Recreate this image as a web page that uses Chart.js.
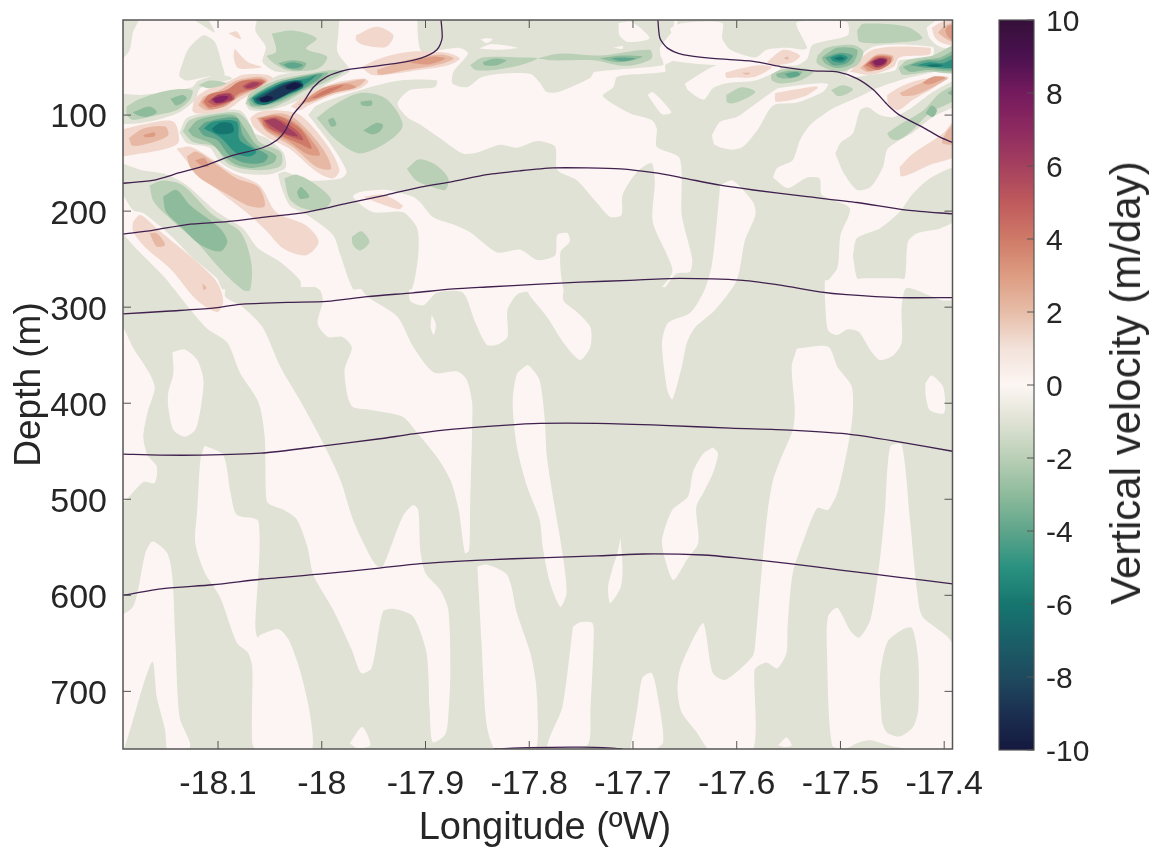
<!DOCTYPE html>
<html>
<head>
<meta charset="utf-8">
<title>Vertical velocity section</title>
<script src="https://cdn.jsdelivr.net/npm/chart.js@4"></script>
<style>
    html, body { margin: 0; padding: 0; background: #fff; }
    #page { position: relative; width: 1153px; height: 848px; overflow: hidden; }
    #sectionChart { position: absolute; left: 0; top: 0; }
    #colorbarChart { position: absolute; left: 960px; top: 0; }
    #colorbarTitle {
        position: absolute; left: 1126px; top: 383px; white-space: nowrap;
        font: 42px "Liberation Sans", sans-serif; color: #262626;
        transform: translate(-50%, -50%) rotate(-90deg);
    }
    #lonTitle {
        position: absolute; left: 545px; top: 826px; white-space: nowrap;
        font: 38px "Liberation Sans", sans-serif; color: #262626;
        transform: translate(-50%, -50%);
    }
</style>
</head>
<body>
<div id="page">
    <canvas id="sectionChart" width="1153" height="848"></canvas>
    <canvas id="colorbarChart" width="193" height="848"></canvas>
    <div id="colorbarTitle">Vertical velocity (m/day)</div>
    <div id="lonTitle">Longitude (ºW)</div>
</div>
<script>
// Axis ticks
const lonTicks = [-18.1, -18, -17.9, -17.8, -17.7, -17.6, -17.5, -17.4];
const depthTicks = [100, 200, 300, 400, 500, 600, 700];
const colorbarTicks = [-10, -8, -6, -4, -2, 0, 2, 4, 6, 8, 10];

// Colour scale of the velocity
const colorbarValues = [-10, -9, -8, -7, -6, -5, -4, -3, -2, -1, 0, 1, 2, 3, 4, 5, 6, 7, 8, 9, 10];
const colorbarColors = ['#14183f', '#1b2f51', '#1e4a5e', '#1a5f68', '#16766f', '#2a9180', '#5ea58b', '#8ebb9c', '#b9cfb6', '#dfe2d4',
    '#fdf6f3', '#f2e2da', '#e7bda8', '#dd9c82', '#cf7a68', '#bf5a5c', '#a5405f', '#8e2a60', '#741a5d', '#4b1150', '#341039'];

// Density surfaces, [lon, depth]
const isoline1 = [[-18.192,171],[-18.163,168],[-18.137,160],[-18.111,152],[-18.086,142],[-18.057,134],[-18.043,126],[-18.035,116],[-18.028,100],[-18.018,87],[-18.008,71],[-17.995,60],[-17.976,53],[-17.956,50],[-17.927,46],[-17.905,41],[-17.889,32],[-17.884,20],[-17.885,1]];
const isoline1b = [[-17.676,1],[-17.674,20],[-17.667,30],[-17.652,37],[-17.623,41],[-17.584,44],[-17.555,50],[-17.526,54],[-17.503,55],[-17.484,62],[-17.468,74],[-17.454,90],[-17.443,100],[-17.420,113],[-17.404,123],[-17.391,129]];
const isoline2 = [[-18.192,224],[-18.163,220],[-18.130,214],[-18.091,211],[-18.053,206],[-18.014,201],[-17.976,192],[-17.937,183],[-17.905,175],[-17.873,169],[-17.841,162],[-17.809,158],[-17.777,155],[-17.744,155],[-17.712,156],[-17.680,160],[-17.654,165],[-17.616,173],[-17.584,178],[-17.532,185],[-17.484,191],[-17.436,199],[-17.391,203]];
const isoline3 = [[-18.192,307],[-18.146,304],[-18.105,301],[-18.079,297],[-18.033,295],[-17.995,294],[-17.956,289],[-17.912,285],[-17.873,281],[-17.841,279],[-17.790,276],[-17.751,274],[-17.703,272],[-17.655,270],[-17.594,272],[-17.558,277],[-17.520,284],[-17.494,287],[-17.445,290],[-17.392,290]];
const isoline4 = [[-18.192,453],[-18.156,454],[-18.117,454],[-18.059,452],[-18.002,445],[-17.944,437],[-17.912,432],[-17.873,427],[-17.825,423],[-17.790,421],[-17.735,421],[-17.671,423],[-17.606,426],[-17.549,428],[-17.494,432],[-17.445,440],[-17.392,450]];
const isoline5 = [[-18.192,600],[-18.153,593],[-18.105,589],[-18.057,583],[-18.002,578],[-17.947,572],[-17.905,567],[-17.841,563],[-17.790,561],[-17.735,559],[-17.690,557],[-17.632,558],[-17.600,561],[-17.549,567],[-17.498,574],[-17.445,581],[-17.392,588]];
const isoline6 = [[-17.834,760],[-17.80,758.5],[-17.75,758],[-17.72,759],[-17.71,760]];

// Filled contours, [lon, depth] outlines, painted in this order
const baseArea = [[[-18.3,-20],[-17.3,-20],[-17.3,780],[-18.3,780],[-18.3,-20]]];

// 0 to 1 m/day
const pinkAreas = [
    [[-18.2,-5],[-17.662,-5],[-17.662,43],[-17.669,48],[-17.669,55],[-17.715,60],[-17.719,71],[-17.729,80],[-17.703,98],[-17.682,105],[-17.677,114],[-17.677,133],[-17.655,145],[-17.653,204],[-17.643,249],[-17.645,263],[-17.658,265],[-17.669,279],[-17.672,279],[-18.195,279],[-18.2,279]],
    [[-18.2,321],[-18.192,321],[-18.182,342],[-18.166,369],[-18.161,384],[-18.168,410],[-18.172,435],[-18.168,454],[-18.159,466],[-18.161,483],[-18.172,482],[-18.192,504],[-18.2,504]],
    [[-18.144,347],[-18.132,344],[-18.120,355],[-18.114,376],[-18.117,407],[-18.122,428],[-18.132,435],[-18.143,428],[-18.148,404],[-18.148,389],[-18.143,369]],
    [[-18.113,444],[-18.095,454],[-18.088,493],[-18.082,516],[-18.061,523],[-18.064,633],[-18.062,644],[-18.059,641],[-18.042,635],[-18.032,646],[-18.021,678],[-18.011,726],[-18.011,763],[-18.061,763],[-18.067,754],[-18.067,675],[-18.071,660],[-18.082,649],[-18.098,602],[-18.113,576],[-18.122,545],[-18.120,511],[-18.117,459]],
    [[-18.149,272],[-18.130,298],[-18.111,322],[-18.091,337],[-18.079,368],[-18.061,399],[-18.055,435],[-18.054,490],[-18.052,504],[-18.037,511],[-18.024,521],[-18.014,549],[-18.008,579],[-17.989,615],[-17.971,657],[-17.962,681],[-17.952,676],[-17.941,617],[-17.931,614],[-17.912,622],[-17.899,660],[-17.896,719],[-17.893,753],[-17.881,745],[-17.878,726],[-17.876,678],[-17.878,615],[-17.886,594],[-17.900,577],[-17.905,553],[-17.907,511],[-17.912,506],[-17.922,518],[-17.941,570],[-17.946,570],[-17.953,560],[-17.970,521],[-17.982,480],[-17.999,441],[-18.021,397],[-18.040,362],[-18.057,321],[-18.076,300],[-18.093,289],[-18.093,272]],
    [[-17.973,754],[-17.961,737],[-17.953,756],[-17.966,759]],
    [[-18.2,620],[-18.192,620],[-18.182,612],[-18.177,594],[-18.170,556],[-18.163,544],[-18.149,556],[-18.144,581],[-18.141,649],[-18.137,727],[-18.127,754],[-18.129,763],[-18.148,763],[-18.151,740],[-18.159,706],[-18.163,669],[-18.172,693],[-18.192,763],[-18.2,763]],
    [[-17.850,570],[-17.841,568],[-17.821,579],[-17.812,618],[-17.799,660],[-17.794,688],[-17.792,719],[-17.795,763],[-17.831,763],[-17.841,735],[-17.846,649]],
    [[-18.021,272],[-18.002,282],[-17.999,293],[-18.004,317],[-17.994,331],[-17.980,331],[-17.971,342],[-17.978,365],[-17.975,393],[-17.970,404],[-17.953,407],[-17.922,414],[-17.908,431],[-17.889,456],[-17.876,480],[-17.868,511],[-17.862,556],[-17.858,553],[-17.857,511],[-17.855,425],[-17.855,400],[-17.860,376],[-17.869,367],[-17.892,368],[-17.912,341],[-17.927,310],[-17.956,289],[-17.970,272]],
    [[-17.894,308],[-17.890,318],[-17.892,329],[-17.895,321]],
    [[-17.915,272],[-17.915,293],[-17.902,298],[-17.889,285],[-17.864,285],[-17.852,316],[-17.841,339],[-17.831,339],[-17.821,331],[-17.821,303],[-17.812,287],[-17.802,284],[-17.799,289],[-17.783,310],[-17.767,337],[-17.751,355],[-17.741,341],[-17.741,321],[-17.754,305],[-17.767,293],[-17.768,272]],
    [[-17.802,360],[-17.799,362],[-17.790,376],[-17.785,417],[-17.783,456],[-17.775,511],[-17.768,556],[-17.764,597],[-17.770,612],[-17.780,587],[-17.787,550],[-17.790,521],[-17.802,487],[-17.812,445],[-17.816,399],[-17.812,370]],
    [[-17.758,633],[-17.751,628],[-17.739,629],[-17.738,649],[-17.741,719],[-17.744,756],[-17.782,759],[-17.768,716],[-17.759,643]],
    [[-17.712,540],[-17.710,573],[-17.712,592],[-17.722,608],[-17.724,591],[-17.720,573],[-17.715,556]],
    [[-17.703,763],[-17.696,719],[-17.691,686],[-17.682,681],[-17.676,706],[-17.671,753],[-17.684,763]],
    [[-17.616,173],[-17.604,168],[-17.584,191],[-17.582,204],[-17.592,230],[-17.600,272],[-17.621,303],[-17.640,321],[-17.648,337],[-17.653,362],[-17.662,396],[-17.667,386],[-17.672,337],[-17.666,316],[-17.645,306],[-17.631,282],[-17.624,256],[-17.619,209]],
    [[-17.623,446],[-17.618,452],[-17.623,473],[-17.632,493],[-17.639,508],[-17.637,545],[-17.648,563],[-17.661,584],[-17.669,563],[-17.672,542],[-17.662,511],[-17.647,497],[-17.642,471],[-17.632,452]],
    [[-17.542,343],[-17.512,341],[-17.503,362],[-17.489,383],[-17.489,420],[-17.502,490],[-17.512,511],[-17.522,509],[-17.528,521],[-17.532,532],[-17.546,577],[-17.551,633],[-17.552,660],[-17.561,676],[-17.571,670],[-17.580,674],[-17.583,678],[-17.585,763],[-17.624,763],[-17.639,742],[-17.653,722],[-17.657,701],[-17.655,678],[-17.641,643],[-17.632,629],[-17.623,681],[-17.611,688],[-17.585,664],[-17.582,649],[-17.575,563],[-17.570,511],[-17.565,480],[-17.558,459],[-17.546,428],[-17.544,407],[-17.547,362]],
    [[-17.560,756],[-17.552,748],[-17.547,756],[-17.553,758]],
    [[-17.457,511],[-17.452,445],[-17.441,443],[-17.433,521],[-17.426,597],[-17.421,622],[-17.397,643],[-17.387,662],[-17.387,763],[-17.447,758],[-17.471,751],[-17.484,754],[-17.494,759],[-17.508,756],[-17.513,660],[-17.512,622],[-17.503,613],[-17.491,636],[-17.482,644],[-17.471,625],[-17.462,563]],
    [[-17.418,379],[-17.412,371],[-17.401,383],[-17.399,405],[-17.401,411],[-17.414,407],[-17.418,391]],
    [[-17.515,272],[-17.515,289],[-17.512,324],[-17.503,329],[-17.493,323],[-17.482,326],[-17.471,345],[-17.462,355],[-17.449,350],[-17.441,337],[-17.441,300],[-17.436,280],[-17.401,293],[-17.387,290],[-17.387,272]],
    [[-17.565,165],[-17.561,155],[-17.546,147],[-17.539,126],[-17.529,110],[-17.507,93],[-17.484,82],[-17.465,72],[-17.430,60],[-17.387,57],[-17.387,277],[-17.395,277],[-17.51,277],[-17.515,277],[-17.503,259],[-17.500,225],[-17.491,197],[-17.518,183],[-17.520,166],[-17.532,165],[-17.551,176]]
];

// -1 to 0 m/day, painted over the pink
const paleAreas = [
    [[-18.2,-5],[-18.175,-5],[-18.182,14],[-18.185,32],[-18.192,41],[-18.2,41]],
    [[-18.137,55],[-18.129,32],[-18.114,17],[-18.103,24],[-18.096,48],[-18.094,58],[-18.111,60],[-18.130,64],[-18.137,60]],
    [[-18.132,-5],[-18.114,-5],[-18.103,14],[-18.114,7]],
    [[-18.061,-5],[-18.064,12],[-18.054,29],[-18.057,45],[-18.043,55],[-17.982,55],[-17.973,53],[-17.985,34],[-17.984,14],[-17.985,-5]],
    [[-18.2,77],[-18.175,79],[-18.151,76],[-18.125,71],[-18.119,64],[-18.098,58],[-18.086,62],[-18.117,72],[-18.122,84],[-18.137,97],[-18.159,105],[-18.182,109],[-18.2,107]],
    [[-18.137,118],[-18.130,103],[-18.098,95],[-18.079,95],[-18.072,103],[-18.066,118],[-18.053,124],[-18.037,139],[-18.035,155],[-18.053,162],[-18.079,160],[-18.098,149],[-18.108,134],[-18.130,129]],
    [[-18.074,88],[-18.069,77],[-18.040,58],[-17.978,53],[-17.973,55],[-17.997,69],[-18.021,84],[-18.050,95],[-18.069,95]],
    [[-18.2,147],[-18.175,157],[-18.149,162],[-18.130,173],[-18.101,201],[-18.076,218],[-18.062,238],[-18.040,253],[-18.021,272],[-18.021,281],[-18.03,281],[-18.09,281],[-18.096,281],[-18.101,270],[-18.124,249],[-18.146,225],[-18.172,202],[-18.182,199],[-18.194,180],[-18.2,180]],
    [[-18.2,212],[-18.185,232],[-18.168,251],[-18.149,272],[-18.144,282],[-18.2,282]],
    [[-17.908,-5],[-17.662,-5],[-17.662,12],[-17.674,30],[-17.672,41],[-17.671,48],[-17.737,55],[-17.741,61],[-17.772,76],[-17.783,76],[-17.790,66],[-17.799,57],[-17.828,57],[-17.847,61],[-17.860,71],[-17.874,67],[-17.873,55],[-17.859,36],[-17.868,30],[-17.903,34],[-17.907,22]],
    [[-18.013,100],[-18.005,90],[-17.963,74],[-17.925,64],[-17.889,64],[-17.891,71],[-17.915,74],[-17.927,88],[-17.918,102],[-17.905,110],[-17.886,124],[-17.864,140],[-17.850,139],[-17.828,131],[-17.812,134],[-17.792,127],[-17.775,133],[-17.773,157],[-17.754,168],[-17.735,191],[-17.722,206],[-17.711,204],[-17.710,183],[-17.696,159],[-17.682,150],[-17.679,170],[-17.681,211],[-17.667,246],[-17.662,263],[-17.674,281],[-17.68,281],[-17.76,281],[-17.767,281],[-17.770,243],[-17.761,232],[-17.763,223],[-17.773,225],[-17.775,246],[-17.792,251],[-17.809,240],[-17.831,243],[-17.857,222],[-17.873,214],[-17.893,206],[-17.905,191],[-17.912,185],[-17.937,178],[-17.963,180],[-17.970,185],[-17.951,201],[-17.922,201],[-17.908,218],[-17.907,246],[-17.913,281],[-17.92,281],[-17.963,281],[-17.970,281],[-17.982,246],[-17.989,225],[-18.014,204],[-18.031,194],[-18.042,162],[-18.035,159],[-18.014,168],[-17.982,166],[-17.976,159],[-17.989,134]],
    [[-17.505,140],[-17.500,129],[-17.488,119],[-17.481,95],[-17.473,92],[-17.462,100],[-17.449,102],[-17.431,92],[-17.411,76],[-17.387,64],[-17.387,88],[-17.411,102],[-17.430,118],[-17.443,126],[-17.455,136],[-17.459,154],[-17.471,175],[-17.484,178],[-17.497,160]],
    [[-17.488,246],[-17.484,228],[-17.462,218],[-17.443,201],[-17.431,183],[-17.414,166],[-17.387,155],[-17.387,207],[-17.404,218],[-17.426,223],[-17.435,232],[-17.438,270],[-17.445,270],[-17.478,270],[-17.484,270]],
    [[-17.460,733],[-17.462,685],[-17.455,649],[-17.441,636],[-17.431,634],[-17.425,667],[-17.425,719],[-17.430,737],[-17.443,747],[-17.455,743]]
];

// small pink pieces on the pale
const pinkIslands = [
    [[-17.624,121],[-17.616,107],[-17.600,102],[-17.584,90],[-17.566,76],[-17.560,72],[-17.523,67],[-17.512,68],[-17.517,76],[-17.542,87],[-17.565,90],[-17.579,114],[-17.594,133],[-17.606,136],[-17.621,131]],
    [[-17.674,30],[-17.661,19],[-17.664,10],[-17.652,4],[-17.614,4],[-17.614,20],[-17.606,32],[-17.582,40],[-17.571,32],[-17.551,30],[-17.536,32],[-17.532,30],[-17.542,3],[-17.494,3],[-17.493,17],[-17.527,27],[-17.532,41],[-17.542,48],[-17.571,48],[-17.621,48],[-17.672,41]],
    [[-17.650,67],[-17.619,48],[-17.563,46],[-17.558,52],[-17.566,57],[-17.582,64],[-17.611,67],[-17.623,72],[-17.632,84],[-17.647,74]],
    [[-17.686,79],[-17.681,76],[-17.663,97],[-17.672,99]],
    [[-17.714,4],[-17.701,3],[-17.684,20],[-17.705,24],[-17.713,17]],
    [[-17.847,21],[-17.841,20],[-17.835,21],[-17.841,25]],
    [[-17.847,30],[-17.836,26],[-17.811,30],[-17.828,32],[-17.847,31]],
    [[-17.72,30],[-17.71,28],[-17.71,31]],
    [[-17.417,9],[-17.404,-1],[-17.387,-1],[-17.387,30],[-17.404,29],[-17.414,20]],
    [[-17.496,58],[-17.469,29],[-17.411,29],[-17.412,40],[-17.443,43],[-17.447,53],[-17.471,58],[-17.491,61]]
];

// Upwelling, 1 m/day steps
const red1 = [
    [[-18.2,117],[-18.169,109],[-18.143,107],[-18.138,128],[-18.15,135],[-18.175,140],[-18.2,142]],
    [[-18.14,135],[-18.127,133],[-18.111,142],[-18.088,159],[-18.06,173],[-18.044,201],[-18.015,215],[-18.003,232],[-18.015,246],[-18.037,239],[-18.053,221],[-18.073,201],[-18.098,180],[-18.121,159]],
    [[-18.182,211],[-18.175,204],[-18.159,218],[-18.14,235],[-18.117,256],[-18.101,274],[-18.095,294],[-18.101,305],[-18.121,292],[-18.146,260],[-18.169,239],[-18.182,221]],
    [[-18.09,15],[-18.082,13],[-18.078,21]],
    [[-18.084,31],[-18.071,45],[-18.058,50],[-18.076,52],[-18.082,50],[-18.085,39]],
    [[-17.967,17],[-17.947,8],[-17.931,17],[-17.938,29],[-17.96,27],[-17.967,22]],
    [[-17.962,50],[-17.944,41],[-17.915,34],[-17.88,35],[-17.867,41],[-17.878,48],[-17.906,53],[-17.938,58],[-17.952,58]],
    [[-18.03,91],[-18.015,79],[-17.989,67],[-17.96,62],[-17.955,65],[-17.963,72],[-17.989,79],[-18.013,90],[-18.021,95]],
    [[-18.125,95],[-18.122,83],[-18.111,74],[-18.088,64],[-18.076,58],[-18.053,58],[-18.047,62],[-18.056,71],[-18.076,83],[-18.092,95],[-18.111,98],[-18.122,98]],
    [[-18.069,103],[-18.061,97],[-18.044,95],[-18.021,100],[-17.995,131],[-17.983,157],[-17.989,166],[-18.005,159],[-18.031,135],[-18.053,123],[-18.066,112]],
    [[-17.96,185],[-17.941,183],[-17.922,194],[-17.925,198],[-17.944,192]],
    [[-17.412,9],[-17.402,3],[-17.387,1],[-17.387,27],[-17.402,25],[-17.409,19]],
    [[-17.491,55],[-17.469,32],[-17.414,30],[-17.414,37],[-17.443,40],[-17.449,50],[-17.471,58]],
    [[-17.455,79],[-17.443,71],[-17.426,64],[-17.397,60],[-17.411,72],[-17.43,84],[-17.445,95],[-17.454,88]],
    [[-17.443,154],[-17.43,140],[-17.401,119],[-17.387,102],[-17.387,140],[-17.414,152],[-17.441,164]],
    [[-17.563,77],[-17.523,70],[-17.522,72],[-17.536,81],[-17.562,86]],
    [[-17.611,56],[-17.594,51],[-17.578,48],[-17.566,50],[-17.582,60],[-17.604,61],[-17.61,61]],
    [[-17.571,45],[-17.555,32],[-17.539,38],[-17.546,45],[-17.565,48]]
];
const red2 = [
    [[-18.186,124],[-18.172,114],[-18.151,112],[-18.148,121],[-18.162,128],[-18.182,132]],
    [[-18.13,143],[-18.121,138],[-18.101,152],[-18.082,166],[-18.061,175],[-18.055,195],[-18.069,195],[-18.095,180],[-18.117,166],[-18.127,154]],
    [[-18.166,223],[-18.159,223],[-18.151,235],[-18.159,237]],
    [[-18.115,275],[-18.111,280],[-18.114,282]],
    [[-17.947,53],[-17.918,43],[-17.886,37],[-17.873,41],[-17.886,47],[-17.918,53],[-17.945,58]],
    [[-18.024,90],[-17.999,72],[-17.973,65],[-17.958,63],[-17.966,71],[-17.989,77],[-18.012,87]],
    [[-18.119,90],[-18.114,81],[-18.098,74],[-18.082,64],[-18.06,60],[-18.052,64],[-18.06,71],[-18.079,81],[-18.095,91],[-18.111,95]],
    [[-18.063,103],[-18.04,98],[-18.024,105],[-17.999,135],[-17.991,156],[-18.005,154],[-18.028,133],[-18.053,117]],
    [[-17.406,14],[-17.399,7],[-17.387,4],[-17.387,25],[-17.399,20]],
    [[-17.481,51],[-17.465,37],[-17.45,38],[-17.449,43],[-17.459,51],[-17.474,55]],
    [[-17.443,77],[-17.423,67],[-17.396,61],[-17.411,71],[-17.428,79],[-17.44,80]],
    [[-17.397,116],[-17.387,105],[-17.387,129],[-17.402,129]],
    [[-17.595,56],[-17.587,56],[-17.59,58]],
    [[-17.555,41],[-17.551,39],[-17.55,42]]
];
const red3 = [
    [[-18.172,121],[-18.161,118],[-18.161,122],[-18.17,123]],
    [[-18.122,147],[-18.113,145],[-18.109,154],[-18.117,152]],
    [[-17.915,45],[-17.893,39],[-17.881,41],[-17.896,47],[-17.912,46]],
    [[-18.019,86],[-17.999,72],[-17.976,67],[-17.967,71],[-17.989,77],[-18.012,86]],
    [[-18.116,87],[-18.109,79],[-18.092,74],[-18.079,65],[-18.06,62],[-18.054,65],[-18.063,72],[-18.079,79],[-18.092,90],[-18.108,94]],
    [[-18.061,103],[-18.044,100],[-18.024,109],[-18.005,133],[-18.002,142],[-18.015,140],[-18.034,126],[-18.053,116]],
    [[-17.399,12],[-17.396,7],[-17.387,7],[-17.387,24],[-17.396,19]],
    [[-17.478,49],[-17.465,38],[-17.451,39],[-17.451,44],[-17.461,51],[-17.473,54]],
    [[-17.421,66],[-17.411,60],[-17.399,61],[-17.411,67],[-17.417,68]]
];
const red4 = [
    [[-18.012,83],[-17.995,73],[-17.979,69],[-17.989,75],[-18.005,82]],
    [[-18.114,86],[-18.109,79],[-18.092,74],[-18.079,65],[-18.06,63],[-18.055,65],[-18.063,72],[-18.079,77],[-18.092,88],[-18.108,92]],
    [[-18.058,103],[-18.04,102],[-18.021,114],[-18.012,128],[-18.01,135],[-18.021,130],[-18.04,121],[-18.055,112]],
    [[-17.476,48],[-17.465,39],[-17.452,40],[-17.452,46],[-17.464,53]]
];
const red5 = [
    [[-18.11,86],[-18.101,79],[-18.088,77],[-18.084,83],[-18.092,87],[-18.103,90]],
    [[-18.077,70],[-18.068,65],[-18.057,66],[-18.064,72],[-18.073,73]],
    [[-18.056,105],[-18.044,103],[-18.024,116],[-18.018,126],[-18.031,122],[-18.05,114]],
    [[-17.473,46],[-17.464,40],[-17.455,41],[-17.456,47],[-17.465,51]]
];
const red6 = [
    [[-18.107,84],[-18.1,79],[-18.089,78],[-18.086,83],[-18.092,86],[-18.102,88]],
    [[-18.074,70],[-18.067,66],[-18.06,67],[-18.066,71],[-18.072,72]],
    [[-18.055,106],[-18.045,104],[-18.031,114],[-18.023,122],[-18.034,120],[-18.048,112]],
    [[-17.471,45],[-17.462,41],[-17.455,42],[-17.457,47],[-17.466,50]]
];
const red7 = [
    [[-18.105,83],[-18.097,80],[-18.09,81],[-18.095,86],[-18.102,87]],
    [[-17.469,44],[-17.462,41],[-17.456,43],[-17.459,47],[-17.466,48]]
];

// Downwelling, 1 m/day steps
const green2 = [
    [[-18.188,91],[-18.175,83],[-18.146,74],[-18.125,74],[-18.127,84],[-18.14,95],[-18.159,100],[-18.182,105],[-18.188,100]],
    [[-18.119,69],[-18.108,64],[-18.092,67],[-18.109,72]],
    [[-18.048,15],[-18.028,12],[-18.005,20],[-18.015,31],[-17.995,39],[-17.999,48],[-18.008,53],[-18.034,53],[-18.053,39],[-18.044,34]],
    [[-18.073,88],[-18.069,77],[-18.044,64],[-18.018,58],[-17.989,53],[-17.979,55],[-17.995,65],[-18.015,74],[-18.031,84],[-18.05,93],[-18.066,93]],
    [[-18.134,117],[-18.127,105],[-18.098,98],[-18.08,98],[-18.069,110],[-18.06,128],[-18.04,138],[-18.039,152],[-18.053,157],[-18.076,156],[-18.092,149],[-18.103,133],[-18.124,128]],
    [[-18.166,173],[-18.153,168],[-18.134,173],[-18.105,204],[-18.079,221],[-18.068,253],[-18.069,282],[-18.076,282],[-18.098,260],[-18.121,232],[-18.146,208],[-18.162,190]],
    [[-18.005,103],[-17.989,90],[-17.963,77],[-17.938,83],[-17.922,110],[-17.934,126],[-17.963,140],[-17.986,126]],
    [[-18.036,166],[-18.024,162],[-18.005,173],[-17.991,188],[-17.999,199],[-18.018,197],[-18.031,187]],
    [[-17.918,156],[-17.906,146],[-17.89,152],[-17.878,166],[-17.881,178],[-17.893,175],[-17.909,168]],
    [[-17.971,227],[-17.962,221],[-17.954,232],[-17.963,241],[-17.97,235]],
    [[-17.857,48],[-17.845,40],[-17.809,40],[-17.792,41],[-17.809,48],[-17.835,53],[-17.852,53]],
    [[-17.792,41],[-17.77,36],[-17.732,38],[-17.684,32],[-17.682,41],[-17.7,48],[-17.715,48],[-17.738,43],[-17.777,43]],
    [[-17.484,12],[-17.478,5],[-17.436,8],[-17.421,20],[-17.44,24],[-17.481,24]],
    [[-17.522,38],[-17.513,30],[-17.488,27],[-17.478,34],[-17.484,48],[-17.503,55],[-17.517,50],[-17.523,45]],
    [[-17.444,51],[-17.436,43],[-17.411,38],[-17.387,27],[-17.387,55],[-17.414,55],[-17.44,58]],
    [[-17.455,119],[-17.443,110],[-17.42,95],[-17.404,77],[-17.387,69],[-17.387,82],[-17.414,98],[-17.433,118],[-17.445,126],[-17.452,124]],
    [[-17.61,79],[-17.595,71],[-17.582,76],[-17.6,87],[-17.609,87]],
    [[-17.509,74],[-17.498,69],[-17.488,73],[-17.494,78],[-17.503,80]],
    [[-17.567,58],[-17.558,53],[-17.539,51],[-17.526,55],[-17.539,64],[-17.558,67],[-17.566,64]]
];
const green3 = [
    [[-18.182,97],[-18.166,91],[-18.159,97],[-18.169,102],[-18.178,100]],
    [[-18.146,83],[-18.134,79],[-18.13,83],[-18.14,90]],
    [[-18.042,46],[-18.028,43],[-18.015,46],[-18.02,53],[-18.034,51]],
    [[-18.071,84],[-18.063,77],[-18.044,67],[-18.012,58],[-17.994,56],[-18.002,64],[-18.018,74],[-18.04,86],[-18.06,91],[-18.068,90]],
    [[-18.129,116],[-18.119,105],[-18.085,100],[-18.074,114],[-18.063,131],[-18.044,142],[-18.047,150],[-18.066,155],[-18.082,152],[-18.095,142],[-18.106,130],[-18.124,122]],
    [[-18.153,185],[-18.14,178],[-18.127,194],[-18.098,218],[-18.091,232],[-18.098,242],[-18.117,235],[-18.137,215],[-18.15,201]],
    [[-17.963,86],[-17.952,85],[-17.952,90],[-17.961,90]],
    [[-17.994,105],[-17.989,103],[-17.986,110],[-17.991,112]],
    [[-17.96,116],[-17.947,108],[-17.941,110],[-17.944,117],[-17.952,120]],
    [[-18.024,180],[-18.02,175],[-18.012,185],[-18.021,187]],
    [[-17.845,45],[-17.833,41],[-17.822,43],[-17.831,48],[-17.843,48]],
    [[-17.732,41],[-17.712,38],[-17.691,39],[-17.7,43],[-17.715,45]],
    [[-17.518,40],[-17.503,30],[-17.484,32],[-17.488,46],[-17.503,51],[-17.515,46]],
    [[-17.44,50],[-17.423,43],[-17.404,40],[-17.387,32],[-17.387,53],[-17.417,53],[-17.433,55]],
    [[-17.562,57],[-17.551,54],[-17.537,55],[-17.541,60],[-17.553,62],[-17.561,60]],
    [[-17.418,98],[-17.412,90],[-17.407,95],[-17.411,102]],
    [[-17.397,77],[-17.387,71],[-17.387,82]]
];
const green4 = [
    [[-18.069,83],[-18.06,76],[-18.04,65],[-18.012,59],[-17.999,57],[-18.005,64],[-18.021,74],[-18.04,84],[-18.06,90],[-18.066,88]],
    [[-18.119,114],[-18.111,107],[-18.082,103],[-18.076,121],[-18.066,133],[-18.052,142],[-18.056,149],[-18.073,150],[-18.089,142],[-18.101,126],[-18.114,121]],
    [[-17.722,41],[-17.71,40],[-17.698,41],[-17.71,44]],
    [[-18.037,47],[-18.028,45],[-18.018,48],[-18.024,51],[-18.032,51]],
    [[-17.515,40],[-17.5,35],[-17.488,38],[-17.494,46],[-17.507,48]],
    [[-17.433,48],[-17.417,43],[-17.404,43],[-17.387,36],[-17.387,51],[-17.414,51]],
    [[-17.554,57],[-17.542,55],[-17.539,58],[-17.549,61]]
];
const green5 = [
    [[-18.067,82],[-18.056,75],[-18.037,66],[-18.015,62],[-18.005,58],[-18.012,65],[-18.024,73],[-18.04,82],[-18.058,88],[-18.064,87]],
    [[-18.114,114],[-18.105,107],[-18.082,107],[-18.079,126],[-18.063,138],[-18.069,143],[-18.082,140],[-18.098,123]],
    [[-17.51,40],[-17.5,37],[-17.493,40],[-17.498,45],[-17.507,44]],
    [[-17.426,48],[-17.414,45],[-17.401,46],[-17.387,40],[-17.387,50],[-17.411,50]]
];
const green6 = [
    [[-18.106,114],[-18.098,108],[-18.087,109],[-18.085,117],[-18.095,120],[-18.103,118]],
    [[-18.066,83],[-18.053,75],[-18.037,66],[-18.02,64],[-18.018,71],[-18.034,79],[-18.053,89],[-18.063,88]],
    [[-17.507,41],[-17.5,39],[-17.496,41],[-17.5,43]],
    [[-17.418,48],[-17.409,47],[-17.401,48],[-17.409,50]]
];
const green7 = [
    [[-18.064,83],[-18.052,76],[-18.036,67],[-18.021,65],[-18.02,69],[-18.034,77],[-18.053,87],[-18.062,86]]
];
const green8 = [
    [[-18.061,83],[-18.052,78],[-18.037,69],[-18.024,65],[-18.018,69],[-18.028,75],[-18.047,85],[-18.058,86]]
];
const green9 = [
    [[-18.035,70],[-18.026,66],[-18.02,69],[-18.026,73],[-18.034,73]],
    [[-18.06,83],[-18.053,80],[-18.047,82],[-18.052,86],[-18.058,86]]
];

const textColor = '#262626';
const frameColor = '#555555';
const fontFamily = '"Liberation Sans", sans-serif';

// One filled dataset per contour patch
function patchDataset(points, color, tension) {
    const closed = points.concat([points[0]]);
    return {
        data: closed.map(p => ({ x: p[0], y: p[1] })),
        showLine: true,
        fill: 'shape',
        backgroundColor: color,
        borderWidth: 0,
        pointRadius: 0,
        tension: tension
    };
}

function lineDataset(points) {
    return {
        data: points.map(p => ({ x: p[0], y: p[1] })),
        showLine: true,
        fill: false,
        borderColor: '#40204f',
        borderWidth: 1.3,
        pointRadius: 0,
        tension: 0.25
    };
}

const layers = [
    [baseArea, '#dfe2d4', 0],
    [pinkAreas, '#fdf5f3', 0.25],
    [paleAreas, '#dfe2d4', 0.25],
    [pinkIslands, '#fdf5f3', 0.25],
    [red1, '#f1d7cc', 0.3], [red2, '#e7b9a5', 0.3], [red3, '#dd9b83', 0.3], [red4, '#cf7a68', 0.3],
    [red5, '#bc5a5e', 0.3], [red6, '#a33f5e', 0.3], [red7, '#84225f', 0.3],
    [green2, '#b9cfb6', 0.3], [green3, '#8fbb9d', 0.3], [green4, '#5fa68c', 0.3], [green5, '#2a9180', 0.3],
    [green6, '#16766f', 0.3], [green7, '#1b5464', 0.3], [green8, '#1b3556', 0.3], [green9, '#141c45', 0.3]
];

const datasets = [];
layers.forEach(layer => {
    layer[0].forEach(points => datasets.push(patchDataset(points, layer[1], layer[2])));
});
[isoline1, isoline1b, isoline2, isoline3, isoline4, isoline5, isoline6].forEach(line => datasets.push(lineDataset(line)));

// Chart.js paints the first dataset last
datasets.reverse();

// No extra room for the first and last tick labels, the plot box is fixed
function noLabelPadding(scale) {
    scale.paddingTop = 0;
    scale.paddingBottom = 0;
    scale.paddingLeft = 0;
    scale.paddingRight = 0;
}

// Box with inward ticks, as in the original figure
const boxPlugin = {
    id: 'boxPlugin',
    afterDatasetsDraw(chart) {
        const { ctx, chartArea: area, scales } = chart;
        const tick = 8;
        ctx.save();
        ctx.strokeStyle = frameColor;
        ctx.lineWidth = 1;
        ctx.beginPath();
        lonTicks.forEach(v => {
            const x = scales.x.getPixelForValue(v);
            ctx.moveTo(x, area.top); ctx.lineTo(x, area.top + tick);
            ctx.moveTo(x, area.bottom); ctx.lineTo(x, area.bottom - tick);
        });
        depthTicks.forEach(v => {
            const y = scales.y.getPixelForValue(v);
            ctx.moveTo(area.left, y); ctx.lineTo(area.left + tick, y);
            ctx.moveTo(area.right, y); ctx.lineTo(area.right - tick, y);
        });
        ctx.stroke();
        ctx.lineWidth = 1.5;
        ctx.strokeRect(area.left, area.top, area.right - area.left, area.bottom - area.top);
        ctx.restore();
    }
};

new Chart(document.getElementById('sectionChart'), {
    type: 'scatter',
    data: { datasets: datasets },
    plugins: [boxPlugin],
    options: {
        responsive: false,
        animation: false,
        layout: { padding: { top: 20, right: 200.5 } },
        plugins: { legend: { display: false }, tooltip: { enabled: false } },
        scales: {
            x: {
                type: 'linear',
                min: -18.1916,
                max: -17.392,
                grid: { display: false },
                border: { display: false },
                afterFit: scale => { scale.height = 99; noLabelPadding(scale); },
                afterBuildTicks: scale => { scale.ticks = lonTicks.map(v => ({ value: v })); },
                ticks: {
                    color: textColor,
                    font: { family: fontFamily, size: 34 },
                    padding: 7,
                    maxRotation: 0,
                    autoSkip: false,
                    callback: v => String(v)
                }
            },
            y: {
                type: 'linear',
                reverse: true,
                min: 1,
                max: 760,
                grid: { display: false },
                border: { display: false },
                afterFit: scale => { scale.width = 123; noLabelPadding(scale); },
                afterBuildTicks: scale => { scale.ticks = depthTicks.map(v => ({ value: v })); },
                ticks: {
                    color: textColor,
                    font: { family: fontFamily, size: 34 },
                    padding: 8,
                    labelOffset: 3,
                    autoSkip: false,
                    callback: v => String(v)
                },
                title: {
                    display: true,
                    text: 'Depth (m)',
                    color: textColor,
                    font: { family: fontFamily, size: 37 },
                    padding: { top: 8, bottom: 0 }
                }
            }
        }
    }
});

// Colour bar: a single floating bar with the colour scale as a gradient
function colorbarFill(context) {
    const chart = context.chart;
    if (!chart.chartArea) {
        return colorbarColors[10];
    }
    const { top, bottom } = chart.chartArea;
    const gradient = chart.ctx.createLinearGradient(0, top, 0, bottom);
    colorbarValues.forEach((v, i) => {
        gradient.addColorStop((10 - v) / 20, colorbarColors[i]);
    });
    return gradient;
}

const colorbarFrame = {
    id: 'colorbarFrame',
    afterDatasetsDraw(chart) {
        const { ctx, chartArea: area, scales } = chart;
        ctx.save();
        ctx.strokeStyle = frameColor;
        ctx.lineWidth = 1;
        ctx.beginPath();
        colorbarTicks.forEach(v => {
            const y = scales.y.getPixelForValue(v);
            ctx.moveTo(area.right - 7, y); ctx.lineTo(area.right, y);
        });
        ctx.stroke();
        ctx.lineWidth = 1.2;
        ctx.strokeRect(area.left, area.top, area.right - area.left, area.bottom - area.top);
        ctx.restore();
    }
};

new Chart(document.getElementById('colorbarChart'), {
    type: 'bar',
    data: {
        labels: ['velocity'],
        datasets: [{
            data: [[-10, 10]],
            backgroundColor: colorbarFill,
            borderWidth: 0,
            barPercentage: 1,
            categoryPercentage: 1
        }]
    },
    plugins: [colorbarFrame],
    options: {
        responsive: false,
        animation: false,
        layout: { padding: { top: 20, bottom: 98, left: 39 } },
        plugins: { legend: { display: false }, tooltip: { enabled: false } },
        scales: {
            x: { display: false },
            y: {
                position: 'right',
                min: -10,
                max: 10,
                grid: { display: false },
                border: { display: false },
                afterFit: scale => { scale.width = 119; noLabelPadding(scale); },
                afterBuildTicks: scale => { scale.ticks = colorbarTicks.map(v => ({ value: v })); },
                ticks: {
                    color: textColor,
                    font: { family: fontFamily, size: 30 },
                    padding: 4,
                    labelOffset: 3,
                    autoSkip: false,
                    callback: v => String(v)
                }
            }
        }
    }
});
</script>
</body>
</html>
